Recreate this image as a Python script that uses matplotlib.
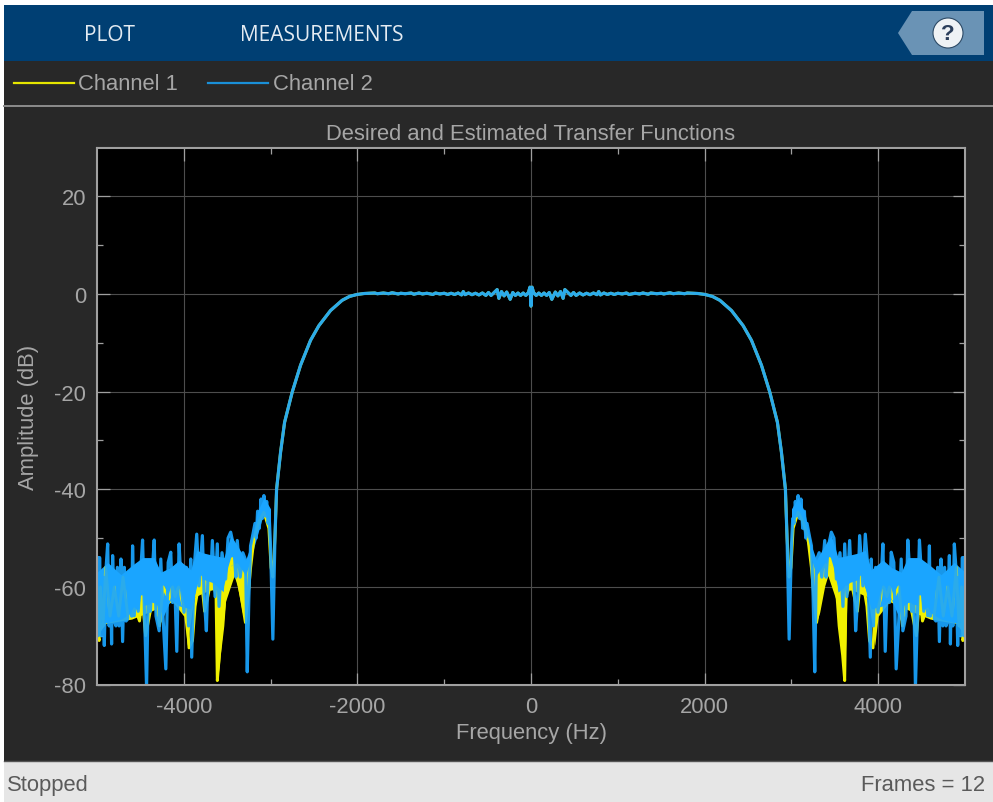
import numpy as np
import matplotlib
matplotlib.use('Agg')
import matplotlib.pyplot as plt
from matplotlib.patches import Rectangle, Polygon, Circle

plt.rcParams['font.family'] = ['Liberation Sans', 'DejaVu Sans']
plt.rcParams['axes.unicode_minus'] = False

# left half of the spectrum (the right half is its mirror)
ch2_stop_hz = [-5000, -4985, -4970, -4950, -4930, -4916, -4895, -4877, -4860, -4845, -4832, -4820,
               -4800, -4782, -4765, -4745, -4724, -4705, -4685, -4665, -4648, -4620, -4600, -4590,
               -4571, -4545, -4525, -4500, -4475, -4455, -4429, -4405, -4385, -4360, -4341, -4320,
               -4284, -4265, -4240, -4207, -4180, -4150, -4130, -4110, -4081, -4054, -4030, -3997,
               -3970, -3945, -3920, -3909, -3880, -3851, -3824, -3786, -3765, -3740, -3715, -3690,
               -3671, -3640, -3614, -3594, -3560, -3518, -3490, -3460, -3422, -3400, -3384, -3350,
               -3320, -3288, -3269, -3250, -3231, -3212, -3180, -3165, -3150, -3130, -3110, -3095,
               -3077, -3060, -3045, -3030, -3015, -3000, -2974, -2950, -2931]
ch2_stop_db = [-54, -70, -54, -70, -58, -72, -56, -51.2, -68, -56, -71.7, -53.6,
               -67, -68, -56, -68, -54.3, -71.2, -56, -67, -66.6, -58, -66, -51.6,
               -65.9, -56, -65, -58, -50.4, -64, -80.6, -56, -65, -56, -50.4, -66,
               -69, -54.3, -66, -76.8, -55, -52.9, -63.2, -56, -73.2, -51.2, -60, -65.2,
               -56, -68, -54.3, -74.4, -56, -49.2, -59.8, -49.5, -62, -69, -54, -58.4,
               -50.5, -62, -51.2, -64, -53, -58.4, -50, -48.8, -52, -58, -50.5, -58,
               -53, -54.5, -77.4, -62, -51.6, -50, -47, -50, -44.5, -48, -42, -46,
               -41.3, -45.5, -42.5, -47, -46, -52, -70.7, -50, -40]

# the solid part of the channel 2 noise, too dense to read as single samples
ch2_band_hz = [-5000, -4877, -4724, -4590, -4475, -4341, -4265, -4150, -4054, -3920, -3851, -3786,
               -3671, -3537, -3460, -3384, -3288, -3231, -3154, -3077, -3001]
ch2_band_top = [-57, -55, -57.5, -55.5, -54, -54, -57, -56, -54.5, -56.5, -52.5, -53,
                -53.5, -54, -49.5, -51.5, -54.5, -51.6, -44.7, -41.7, -44]
ch2_band_low = [-67.3, -67.3, -66.6, -65.2, -63.9, -63.2, -67.3, -62.5, -63.9, -64.5, -60.4, -58.4,
                -59.1, -61.1, -55.7, -55, -57.7, -54.3, -49.5, -44.7, -48]

ch1_stop_hz = [-5000, -4990, -4975, -4960, -4930, -4900, -4850, -4800, -4750, -4700, -4640, -4600,
               -4570, -4540, -4510, -4480, -4440, -4370, -4320, -4280, -4240, -4170, -4130, -4100,
               -4060, -3990, -3960, -3940, -3900, -3870, -3840, -3800, -3760, -3700, -3680, -3630,
               -3614, -3590, -3550, -3518, -3470, -3440, -3420, -3385, -3340, -3290, -3260, -3230,
               -3190, -3130, -3077, -3020, -2995, -2974, -2950, -2931]
ch1_stop_db = [-60, -70, -71, -60, -68, -56, -66, -60, -66, -58, -66.5, -66,
               -64.5, -65.5, -67, -62, -70, -63.5, -64, -68, -60, -62.5, -60, -62,
               -60, -65, -66, -72.5, -71, -64, -60.8, -58, -65, -60, -60.5, -60,
               -79.2, -74, -68, -60, -56, -54.2, -56, -57.7, -61.8, -67.3, -62, -56,
               -50, -46.5, -44.7, -48, -56, -58, -50, -40]

# the channel 1 mass that shows under channel 2
ch1_band_hz = [-5000, -4900, -4600, -4380, -4130, -4000, -3960, -3930, -3880, -3845, -3670, -3640,
               -3614, -3590, -3560, -3520, -3460, -3420, -3384, -3326, -3288, -3240]
ch1_band_top = [-60, -60, -60, -60, -60, -60, -60, -60, -57, -55, -55, -55,
                -55, -55, -55, -54, -52, -52, -52, -55, -55, -55]
ch1_band_low = [-70, -67.5, -66.6, -65, -63, -66, -72, -68, -62, -61.8, -60.4, -62,
                -79.2, -76, -70, -63, -59.8, -57.7, -59.8, -65.2, -67.3, -60]

# roll-off and passband ripple, the two channels sit on top of each other here
pass_hz = [-2885, -2839, -2751, -2655, -2540, -2444, -2310, -2176, -2090, -2004, -1920,
           -1800, -1770, -1700, -1640, -1600, -1530, -1500, -1450, -1380, -1350, -1290, -1250,
           -1200, -1130, -1100, -1050, -1000, -960, -920, -880, -840, -800, -780, -760, -720,
           -680, -640, -600, -560, -520, -490, -460, -420, -390, -370, -340, -310, -280, -240,
           -210, -180, -150, -120, -90, -60, -30, -12, 0]
pass_db = [-32.4, -26.3, -20.1, -14.6, -9.5, -6.5, -3.4, -1.3, -0.5, -0.1, 0.1,
           0.2, 0.05, 0.2, 0.05, 0.25, 0, 0.15, 0.05, 0.2, -0.05, 0.2, 0,
           0.15, -0.1, 0.2, 0, 0.15, -0.1, 0.15, -0.1, 0.2, -0.2, 0.5, -0.15, 0.2,
           -0.15, 0.15, -0.2, 0.2, -0.3, 0.3, -0.3, 0.4, 0.9, -0.9, 0.5, -0.4, 0.4, -1.1,
           0.3, -0.3, 0.2, -0.3, 0.2, -0.3, 0.3, 1.4, -2.5]

x_ticks = [-4000, -2000, 0, 2000, 4000]
x_minor = [-3000, -1000, 1000, 3000]
y_ticks = [-80, -60, -40, -20, 0, 20]
y_minor = [-70, -50, -30, -10, 10]


def full_spectrum(stop_hz, stop_db):
    left_hz = np.array(stop_hz + pass_hz, dtype=float)
    left_db = np.array(stop_db + pass_db, dtype=float)
    return (np.concatenate([left_hz, -left_hz[::-1][1:]]),
            np.concatenate([left_db, left_db[::-1][1:]]))


W, H = 993, 803
fig = plt.figure(figsize=(W / 100, H / 100), dpi=100, facecolor='white')

# window chrome, in pixel coordinates
bg = fig.add_axes([0, 0, 1, 1], zorder=0)
bg.set_xlim(0, W)
bg.set_ylim(H, 0)
bg.axis('off')
bg.add_patch(Rectangle((4, 6), W - 4, 56, fc='#003f73', ec='none'))
bg.add_patch(Rectangle((4, 62), W - 4, 700, fc='#282828', ec='none'))
bg.add_patch(Rectangle((4, 762), W - 4, 41, fc='#e6e6e6', ec='none'))
bg.plot([4, W], [107, 107], color='#8c8c8c', lw=1.4)
bg.plot([4, W], [762, 762], color='#555555', lw=1)
bg.add_patch(Polygon([(898, 34), (912, 12), (984, 12), (984, 56), (912, 56)], fc='#6a93b5', ec='none'))
bg.add_patch(Circle((948, 34), 15, fc='#eef2f5', ec='#2c4a66', lw=0.8))
bg.text(948, 35, '?', color='#2b3f5c', fontsize=16, fontweight='bold', ha='center', va='center')

bg.text(109, 35.5, 'PLOT', color='#e4ebf2', fontsize=15, family='Open Sans', ha='center', va='center')
bg.text(322, 35.5, 'MEASUREMENTS', color='#e4ebf2', fontsize=15, family='Open Sans', ha='center', va='center')

bg.plot([14, 74], [84, 84], color='#e6e600', lw=1.6)
bg.text(78, 84, 'Channel 1', color='#a6a6a6', fontsize=15.8, va='center')
bg.plot([208, 268], [84, 84], color='#1a90d8', lw=1.6)
bg.text(273, 84, 'Channel 2', color='#a6a6a6', fontsize=15.8, va='center')

bg.text(7, 786, 'Stopped', color='#5a5a5a', fontsize=15.8, va='center')
bg.text(985, 786, 'Frames = 12', color='#5a5a5a', fontsize=15.8, va='center', ha='right')

ax = fig.add_axes([97 / W, (H - 685.5) / H, 868 / W, 536.5 / H], zorder=1, facecolor='black')

hz1, db1 = full_spectrum(ch1_stop_hz, ch1_stop_db)
hz2, db2 = full_spectrum(ch2_stop_hz, ch2_stop_db)
band1 = np.array(ch1_band_hz, dtype=float)
band2 = np.array(ch2_band_hz, dtype=float)

for sign in (1, -1):
    ax.fill_between(sign * band1, ch1_band_low, ch1_band_top, color='#f0f000', lw=0)
ax.plot(hz1, db1, color='#f0f000', lw=2.1, label='Channel 1')
for sign in (1, -1):
    ax.fill_between(sign * band2, ch2_band_low, ch2_band_top, color='#1aa5ff', lw=0)
ax.plot(hz2, db2, color='#1aa5ff', lw=2.3, alpha=0.92, label='Channel 2')

ax.set_xlim(-5000, 5000)
ax.set_ylim(-80, 29.9)
ax.set_xticks(x_ticks)
ax.set_xticks(x_minor, minor=True)
ax.set_yticks(y_ticks)
ax.set_yticks(y_minor, minor=True)
ax.grid(True, which='major', color='#4d4d4d', lw=0.8)
ax.set_axisbelow(True)
ax.tick_params(which='major', direction='in', length=9, width=0.9, color='#a0a0a0',
               top=True, right=True, labelsize=15.8, labelcolor='#a6a6a6', pad=8)
ax.tick_params(which='minor', direction='in', length=4.5, width=0.9, color='#a0a0a0',
               top=True, right=True)
for s in ax.spines.values():
    s.set_color('#a0a0a0')
    s.set_linewidth(1.5)

ax.set_title('Desired and Estimated Transfer Functions', color='#a6a6a6', fontsize=15.8, pad=6.5)
ax.set_xlabel('Frequency (Hz)', color='#a6a6a6', fontsize=15.8, va='center')
ax.set_ylabel('Amplitude (dB)', color='#a6a6a6', fontsize=15.8, va='center')
ax.xaxis.set_label_coords(0.5, -(733.5 - 685.5) / 536.5)
ax.yaxis.set_label_coords((29 - 97) / 868, 0.5)

fig.savefig('out.png', dpi=100, facecolor=fig.get_facecolor())
